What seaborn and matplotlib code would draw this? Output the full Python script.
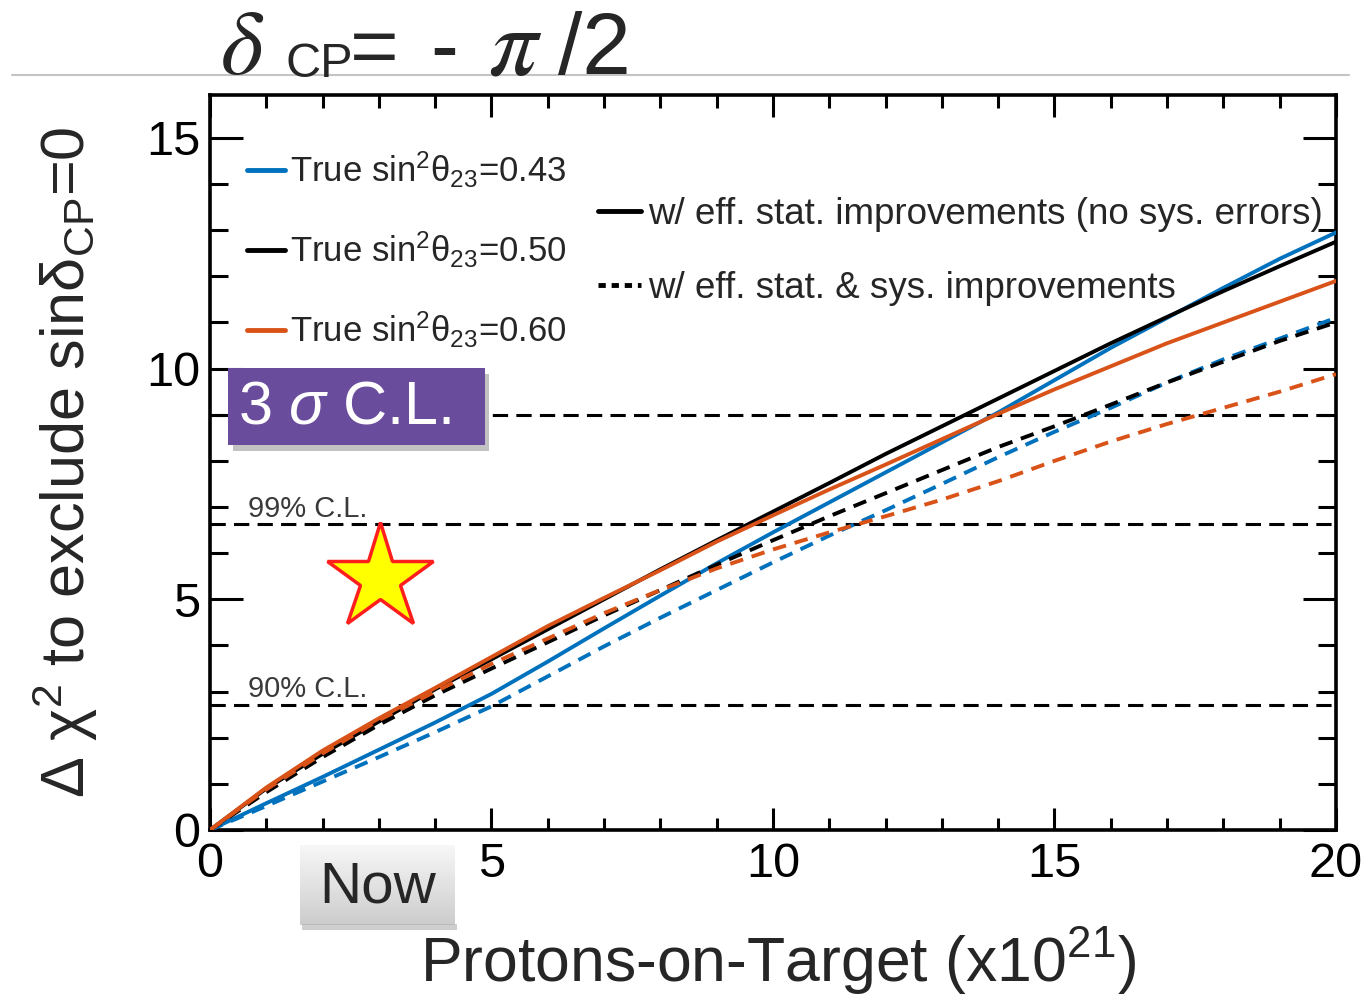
import numpy as np
import pandas as pd
import seaborn as sns
import matplotlib.pyplot as plt
from matplotlib.lines import Line2D
from matplotlib.patches import Rectangle
from matplotlib.ticker import MultipleLocator

# ---------------- data ----------------
pot = [0, 1, 2, 3, 4, 5, 6, 7, 8, 9, 10, 11, 12, 13, 14, 15, 16, 17, 18, 19, 20]

chi2_043_stat = [0, 0.58, 1.15, 1.74, 2.33, 2.95, 3.65, 4.37, 5.08, 5.78, 6.45, 7.1, 7.75, 8.4, 9.05, 9.75, 10.45, 11.1, 11.75, 12.38, 12.95]
chi2_050_stat = [0, 0.9, 1.65, 2.35, 3.05, 3.7, 4.35, 5.0, 5.65, 6.28, 6.9, 7.52, 8.15, 8.75, 9.35, 9.95, 10.55, 11.12, 11.68, 12.22, 12.75]
chi2_060_stat = [0, 0.92, 1.72, 2.42, 3.08, 3.75, 4.42, 5.03, 5.63, 6.25, 6.82, 7.38, 7.92, 8.47, 9.02, 9.55, 10.05, 10.55, 11.0, 11.45, 11.9]

chi2_043_sys = [0, 0.52, 1.05, 1.58, 2.12, 2.68, 3.33, 3.98, 4.6, 5.2, 5.8, 6.38, 6.93, 7.5, 8.08, 8.63, 9.15, 9.7, 10.2, 10.65, 11.1]
chi2_050_sys = [0, 0.82, 1.58, 2.28, 2.92, 3.5, 4.07, 4.65, 5.2, 5.75, 6.28, 6.8, 7.3, 7.8, 8.3, 8.75, 9.22, 9.7, 10.15, 10.6, 11.0]
chi2_060_sys = [0, 0.88, 1.66, 2.38, 3.0, 3.6, 4.15, 4.7, 5.2, 5.67, 6.08, 6.45, 6.8, 7.16, 7.56, 8.0, 8.42, 8.8, 9.15, 9.5, 9.88]

theta_values = ["0.43", "0.50", "0.60"]
scenarios = ["w/ eff. stat. improvements (no sys. errors)",
             "w/ eff. stat. & sys. improvements"]
cl_levels = [2.71, 6.63, 9.0]
cl_labels = ["90% C.L.", "99% C.L.", "3 $\\mathit{σ}$ C.L."]
x_ticks = [0, 5, 10, 15, 20]
y_ticks = [0, 5, 10, 15]

series = {
    ("0.43", scenarios[0]): chi2_043_stat,
    ("0.50", scenarios[0]): chi2_050_stat,
    ("0.60", scenarios[0]): chi2_060_stat,
    ("0.43", scenarios[1]): chi2_043_sys,
    ("0.50", scenarios[1]): chi2_050_sys,
    ("0.60", scenarios[1]): chi2_060_sys,
}
rows = []
for (th, sc), vals in series.items():
    for xv, yv in zip(pot, vals):
        rows.append({"pot": xv, "chi2": yv, "theta": th, "scenario": sc})
df = pd.DataFrame(rows)

# ---------------- style ----------------
sns.set_theme(style="ticks")
plt.rcParams["font.family"] = ["Liberation Sans", "DejaVu Sans"]
plt.rcParams["mathtext.fontset"] = "custom"
plt.rcParams["mathtext.rm"] = "Liberation Sans"
plt.rcParams["mathtext.it"] = "Liberation Sans:italic"
plt.rcParams["mathtext.bf"] = "Liberation Sans:bold"

colors = {"0.43": "#0072BD", "0.50": "#000000", "0.60": "#D95319"}

fig = plt.figure(figsize=(13.7, 9.96), dpi=100)
ax = fig.add_axes([0.15328, 0.16667, 0.82190, 0.73795])

# title line and title
fig.add_artist(Line2D([0.0088, 0.985], [0.9247, 0.9247], transform=fig.transFigure,
                      color="#c4c4c4", lw=1.5))
ty = 0.9257
fig.text(220 / 1370, ty, r"$\delta$", fontsize=66, math_fontfamily="stix", va="baseline")
fig.text(285 / 1370, ty - 0.003, "CP", fontsize=35, va="baseline")
fig.text(350 / 1370, ty, "=", fontsize=60, va="baseline")
fig.text(430 / 1370, ty, "-", fontsize=60, va="baseline")
fig.text(488 / 1370, ty, r"$\pi$", fontsize=70, math_fontfamily="stix", va="baseline")
fig.text(558 / 1370, ty, "/2", fontsize=63, va="baseline")

# CL reference lines
for lev in cl_levels:
    ax.axhline(lev, color="black", lw=2.2, ls=(0, (5, 2.7)), zorder=1)

sns.lineplot(data=df, x="pot", y="chi2", hue="theta", style="scenario",
             palette=colors, dashes={scenarios[0]: "", scenarios[1]: (3.5, 2.3)},
             linewidth=2.8, legend=False, estimator=None, sort=False, ax=ax, zorder=3)

ax.set_xlim(0, 20)
ax.set_ylim(0, 15.93)
ax.set_xticks(x_ticks)
ax.set_yticks(y_ticks)
ax.xaxis.set_minor_locator(MultipleLocator(1))
ax.yaxis.set_minor_locator(MultipleLocator(1))
ax.tick_params(which="both", direction="in", top=True, right=True, width=2.2,
               colors="black", labelsize=35)
ax.tick_params(axis="y", which="major", length=24, pad=7)
ax.tick_params(axis="y", which="minor", length=13)
ax.tick_params(axis="x", which="major", length=16, pad=9)
ax.tick_params(axis="x", which="minor", length=9)
for s in ax.spines.values():
    s.set_linewidth(2.6)
    s.set_color("black")

ax.set_xlabel("Protons-on-Target (x10$^{21}$)", fontsize=45)
ax.set_ylabel("Δ χ$^2$ to exclude sinδ$_{\\rm CP}$=0", fontsize=44)
ax.xaxis.set_label_coords(0.504, -0.130)
ax.yaxis.set_label_coords(-0.098, 0.5)

# CL texts
ax.text(0.675, 6.79, cl_labels[1], fontsize=21, color="#3a3a3a", va="baseline")
ax.text(0.675, 2.88, cl_labels[0], fontsize=21, color="#3a3a3a", va="baseline")

# 3 sigma box
ax.add_patch(Rectangle((0.40, 8.22), 4.56, 1.67, fc="#9a9a9a", ec="none", alpha=0.6, zorder=5))
ax.add_patch(Rectangle((0.32, 8.35), 4.56, 1.67, fc="#6A4C9C", ec="none", zorder=6))
ax.text(0.5, 9.15, cl_labels[2], color="white", fontsize=44, ha="left", va="center", zorder=7)

# star
ax.plot([3.02], [5.47], marker="*", ms=80, mfc="#FFFF00", mec="#FF1E1E", mew=2.5,
        ls="none", zorder=6)

# legends
h1 = [Line2D([], [], color=colors[t], lw=3.5) for t in theta_values]
l1 = [f"True sin$^2$θ$_{{23}}$={t}" for t in theta_values]
leg1 = ax.legend(h1, l1, loc="upper left", bbox_to_anchor=(0.033, 0.926), frameon=False,
                 fontsize=25, handlelength=1.1, handletextpad=0.12, labelspacing=1.15,
                 borderpad=0, borderaxespad=0)
ax.add_artist(leg1)
h2 = [Line2D([], [], color="black", lw=3.5),
      Line2D([], [], color="black", lw=3.5, ls=(0, (1.5, 1.2)))]
leg2 = ax.legend(h2, scenarios, loc="upper left", bbox_to_anchor=(0.345, 0.861), frameon=False,
                 fontsize=26.5, handlelength=1.15, handletextpad=0.2, labelspacing=1.05,
                 borderpad=0, borderaxespad=0)

# "Now" button
bax = fig.add_axes([300 / 1370, 71 / 996, 155 / 1370, 80 / 996])
grad = np.linspace(0.97, 0.80, 50)[:, None]
bax.imshow(grad, aspect="auto", cmap="gray", vmin=0, vmax=1, extent=(0, 1, 0, 1))
bax.set_axis_off()
bax.text(0.5, 0.47, "Now", fontsize=42, ha="center", va="center", transform=bax.transAxes)
fig.add_artist(Rectangle((302 / 1370, 66 / 996), 155 / 1370, 6 / 996, transform=fig.transFigure,
                         fc="#b0b0b0", ec="none", alpha=0.6))

fig.savefig("out.png", dpi=100)
